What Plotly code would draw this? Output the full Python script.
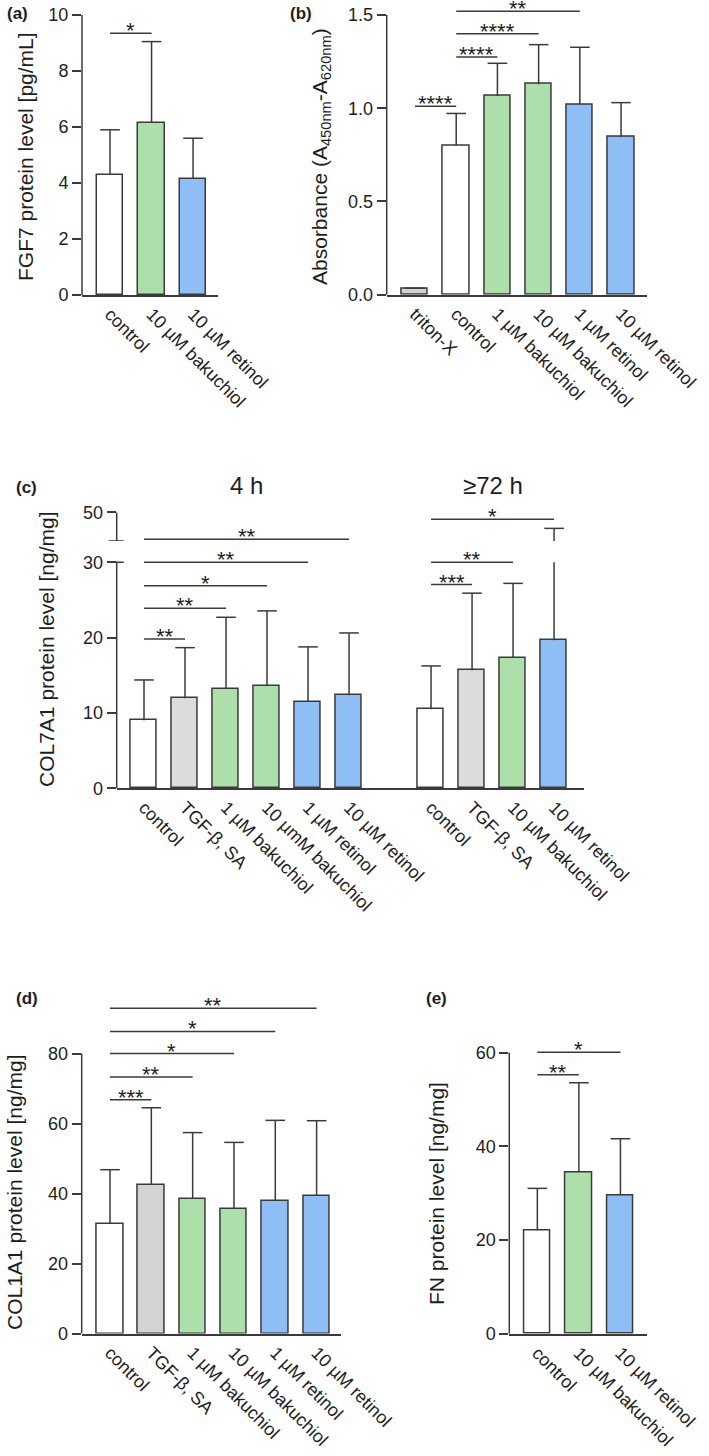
import plotly.graph_objects as go

W, H = 709, 1456

# ---------------- data ----------------
# (a) FGF7
a_labels = ["control", "10 µM bakuchiol", "10 µM retinol"]
a_mean = [4.3, 6.15, 4.15]
a_top = [5.9, 9.05, 5.6]
a_sig_from = [0]
a_sig_to = [1]
a_sig_y = [9.35]
a_sig_text = ["*"]

# (b) Absorbance
b_labels = ["triton-X", "control", "1 µM bakuchiol", "10 µM bakuchiol", "1 µM retinol", "10 µM retinol"]
b_mean = [0.03, 0.80, 1.066, 1.129, 1.021, 0.846]
b_top = [0.035, 0.972, 1.241, 1.341, 1.327, 1.03]
b_sig_from = [0, 1, 1, 1]
b_sig_to = [1, 2, 3, 4]
b_sig_y = [1.01, 1.275, 1.40, 1.52]
b_sig_text = ["****", "****", "****", "**"]

# (c) COL7A1
c4_labels = ["control", "TGF-β, SA", "1 µM bakuchiol", "10 µmM bakuchiol", "1 µM retinol", "10 µM retinol"]
c4_mean = [9.03, 11.95, 13.19, 13.59, 11.5, 12.35]
c4_top = [14.38, 18.67, 22.7, 23.55, 18.77, 20.62]
c4_sig_to = [1, 2, 3, 4, 5]
c4_sig_y = [19.83, 23.9, 26.9, 30.0, 33.05]
c4_sig_text = ["**", "**", "*", "**", "**"]
c72_labels = ["control", "TGF-β, SA", "10 µM bakuchiol", "10 µM retinol"]
c72_mean = [10.49, 15.67, 17.3, 19.65]
c72_top = [16.24, 25.9, 27.2, 44.4]
c72_sig_to = [1, 2, 3]
c72_sig_y = [27.04, 30.0, 35.7]
c72_sig_text = ["***", "**", "*"]
c_titles = ["4 h", "≥72 h"]

# (d) COL1A1
d_labels = ["control", "TGF-β, SA", "1 µM bakuchiol", "10 µM bakuchiol", "1 µM retinol", "10 µM retinol"]
d_mean = [31.3, 42.4, 38.4, 35.7, 37.9, 39.4]
d_top = [46.8, 64.5, 57.4, 54.6, 60.9, 60.8]
d_sig_to = [1, 2, 3, 4, 5]
d_sig_y = [66.8, 73.3, 80.0, 86.3, 92.9]
d_sig_text = ["***", "**", "*", "*", "**"]

# (e) FN
e_labels = ["control", "10 µM bakuchiol", "10 µM retinol"]
e_mean = [22.07, 34.46, 29.55]
e_top = [31.04, 53.6, 41.64]
e_sig_to = [1, 2]
e_sig_y = [55.3, 60.1]
e_sig_text = ["**", "*"]

# ---------------- style ----------------
WHITE = "#ffffff"
GREY = "#d3d3d3"
LGREY = "#dcdcdc"
GREEN = "#addfab"
BLUE = "#8fbdf5"
INK = "#3a3a3a"
TXT = "#1e1e1e"
FONT = "Liberation Sans, Arial, sans-serif"
TICK_FS = 18
TITLE_FS = 21
STAR_FS = 22
LW = 1.5
CAP = 14

fig = go.Figure()
annotations = []
shapes = []


def X(px):
    return min(1.0, max(0.0, px / W))


def Y(py):
    return min(1.0, max(0.0, 1 - py / H))


def add_panel(xa, ya, xs, means, tops, fills, ya_upper=None, brk=None):
    fig.add_trace(go.Bar(
        x=xs, y=means, xaxis=xa, yaxis=ya, width=0.64,
        marker=dict(color=fills, line=dict(color=INK, width=LW)),
        showlegend=False, hoverinfo="skip"))
    ex, ey, cx, cy = [], [], [], []
    ux, uy, ucx, ucy = [], [], [], []
    for x, m, t in zip(xs, means, tops):
        if brk is not None and t > brk[0]:
            ex += [x, x, None]
            ey += [m, brk[0], None]
            ux += [x, x, None]
            uy += [brk[1], t, None]
            ucx.append(x)
            ucy.append(t)
        else:
            ex += [x, x, None]
            ey += [m, t, None]
            cx.append(x)
            cy.append(t)
    fig.add_trace(go.Scatter(x=ex, y=ey, xaxis=xa, yaxis=ya, mode="lines",
                             line=dict(color=INK, width=LW), showlegend=False, hoverinfo="skip"))
    fig.add_trace(go.Scatter(x=cx, y=cy, xaxis=xa, yaxis=ya, mode="markers",
                             marker=dict(symbol="line-ew", size=CAP, line=dict(color=INK, width=LW)),
                             showlegend=False, hoverinfo="skip", cliponaxis=False))
    if ux:
        fig.add_trace(go.Scatter(x=ux, y=uy, xaxis=xa, yaxis=ya_upper, mode="lines",
                                 line=dict(color=INK, width=LW), showlegend=False, hoverinfo="skip"))
        fig.add_trace(go.Scatter(x=ucx, y=ucy, xaxis=xa, yaxis=ya_upper, mode="markers",
                                 marker=dict(symbol="line-ew", size=CAP, line=dict(color=INK, width=LW)),
                                 showlegend=False, hoverinfo="skip", cliponaxis=False))


def add_sig(xa, ya, x0s, x1s, ys, texts):
    for x0, x1, y, t in zip(x0s, x1s, ys, texts):
        fig.add_trace(go.Scatter(x=[x0, x1], y=[y, y], xaxis=xa, yaxis=ya, mode="lines",
                                 line=dict(color=INK, width=LW), showlegend=False, hoverinfo="skip",
                                 cliponaxis=False))
        annotations.append(dict(x=(x0 + x1) / 2, y=y, xref=xa, yref=ya, text=t, showarrow=False,
                                xanchor="center", yanchor="bottom", yshift=-12,
                                font=dict(size=STAR_FS, color=TXT, family=FONT)))


def spine(xa, ya, top):
    shapes.append(dict(type="line", xref=xa + " domain", yref=ya, x0=0, x1=0, y0=0, y1=top,
                       line=dict(color=INK, width=LW)))


def xaxis_layout(px0, px1, rng, tickvals, ticktext, anchor):
    return dict(domain=[X(px0), X(px1)], range=rng, anchor=anchor, showline=True, linecolor=INK,
                linewidth=LW, ticks="", tickvals=tickvals, ticktext=ticktext, tickangle=45,
                showgrid=False, zeroline=False, tickfont=dict(size=TICK_FS, color=TXT, family=FONT),
                fixedrange=True, automargin=False, ticklabeloverflow="allow")


def yaxis_layout(py0, py1, rng, tickvals, anchor, showline=False):
    return dict(domain=[Y(py0), Y(py1)], range=rng, anchor=anchor, showline=showline, linecolor=INK,
                linewidth=LW, ticks="outside", ticklen=9, tickwidth=LW, tickcolor=INK,
                tickvals=tickvals, showgrid=False, zeroline=False, automargin=False,
                ticklabeloverflow="allow",
                tickfont=dict(size=TICK_FS, color=TXT, family=FONT), fixedrange=True)


# ---- panel a ----
xa_pos = list(range(len(a_labels)))
add_panel("x", "y", xa_pos, a_mean, a_top, [WHITE, GREEN, BLUE])
add_sig("x", "y", a_sig_from, a_sig_to, a_sig_y, a_sig_text)
spine("x", "y", 10)

# ---- panel b ----
xb_pos = list(range(len(b_labels)))
add_panel("x2", "y2", xb_pos, b_mean, b_top, [GREY, WHITE, GREEN, GREEN, BLUE, BLUE])
add_sig("x2", "y2", b_sig_from, b_sig_to, b_sig_y, b_sig_text)
spine("x2", "y2", 1.5)

# ---- panel c ----
c4_pos = list(range(len(c4_labels)))
c72_pos = [len(c4_labels) + 1 + i for i in range(len(c72_labels))]
add_panel("x3", "y3", c4_pos, c4_mean, c4_top, [WHITE, LGREY, GREEN, GREEN, BLUE, BLUE])
add_panel("x3", "y3", c72_pos, c72_mean, c72_top, [WHITE, LGREY, GREEN, BLUE], ya_upper="y6", brk=(30, 40))
add_sig("x3", "y3", [c4_pos[0]] * len(c4_sig_to), [c4_pos[i] for i in c4_sig_to], c4_sig_y, c4_sig_text)
add_sig("x3", "y3", [c72_pos[0]] * len(c72_sig_to), [c72_pos[i] for i in c72_sig_to], c72_sig_y, c72_sig_text)
spine("x3", "y3", 30)
spine("x3", "y6", 50)
C_DOM_W = 584 - 116.7
for ya, yv in (("y3", 30), ("y6", 40)):
    shapes.append(dict(type="line", xref="x3 domain", yref=ya, x0=-8 / C_DOM_W, x1=7 / C_DOM_W, y0=yv, y1=yv,
                       line=dict(color=INK, width=LW)))
for grp, title in ((c4_pos, c_titles[0]), (c72_pos, c_titles[1])):
    annotations.append(dict(x=(grp[0] + grp[-1]) / 2, y=Y(486), xref="x3", yref="paper", text=title,
                            showarrow=False, xanchor="center", yanchor="middle",
                            font=dict(size=24, color=TXT, family="Liberation Sans Narrow, " + FONT)))

# ---- panel d ----
xd_pos = list(range(len(d_labels)))
add_panel("x4", "y4", xd_pos, d_mean, d_top, [WHITE, GREY, GREEN, GREEN, BLUE, BLUE])
add_sig("x4", "y4", [0] * len(d_sig_to), d_sig_to, d_sig_y, d_sig_text)
spine("x4", "y4", 80)

# ---- panel e ----
xe_pos = list(range(len(e_labels)))
add_panel("x5", "y5", xe_pos, e_mean, e_top, [WHITE, GREEN, BLUE])
add_sig("x5", "y5", [0] * len(e_sig_to), e_sig_to, e_sig_y, e_sig_text)
spine("x5", "y5", 60)


# ---- axis titles & panel letters ----
def ytitle(px, py, text):
    annotations.append(dict(x=X(px), y=Y(py), xref="paper", yref="paper", text=text, textangle=-90,
                            showarrow=False, xanchor="center", yanchor="middle",
                            font=dict(size=TITLE_FS, color=TXT, family=FONT)))


ytitle(25, 157, "FGF7 protein level [pg/mL]")
ytitle(321, 157, "Absorbance (A<sub>450nm</sub>-A<sub>620nm</sub>)")
ytitle(46, 650, "COL7A1 protein level [ng/mg]")
ytitle(14, 1193, "COL1A1 protein level [ng/mg]")
ytitle(436, 1194, "FN protein level [ng/mg]")

for t, px, py in (("(a)", 17, 14), ("(b)", 301, 14), ("(c)", 26, 488), ("(d)", 27, 998), ("(e)", 436, 998)):
    annotations.append(dict(x=X(px), y=Y(py), xref="paper", yref="paper", text="<b>" + t + "</b>",
                            showarrow=False, xanchor="center", yanchor="middle",
                            font=dict(size=17, color=TXT, family=FONT)))

fig.update_layout(
    width=W, height=H, margin=dict(l=0, r=0, t=0, b=0, autoexpand=False), autosize=False,
    paper_bgcolor="white", plot_bgcolor="rgba(0,0,0,0)", showlegend=False,
    bargap=0, hovermode=False,
    xaxis=xaxis_layout(82, 218, [-0.675, 2.6], xa_pos, a_labels, "y"),
    yaxis=yaxis_layout(295, 15, [0, 10], [0, 2, 4, 6, 8, 10], "x"),
    xaxis2=xaxis_layout(386.7, 647, [-0.687, 5.63], xb_pos, b_labels, "y2"),
    yaxis2=yaxis_layout(294.7, 3.8, [0, 1.56], [0, 0.5, 1.0, 1.5], "x2"),
    xaxis3=xaxis_layout(116.7, 584, [-0.666, 10.73], c4_pos + c72_pos, c4_labels + c72_labels, "y3"),
    yaxis3=yaxis_layout(788.3, 512.1, [0, 36.66], [0, 10, 20, 30], "x3"),
    yaxis6=yaxis_layout(541, 512.3, [40, 50], [50], "x3"),
    xaxis4=xaxis_layout(81.7, 341.4, [-0.685, 5.6], xd_pos, d_labels, "y4"),
    yaxis4=yaxis_layout(1333.5, 1001, [0, 95], [0, 20, 40, 60, 80], "x4"),
    xaxis5=xaxis_layout(509.3, 646.6, [-0.675, 2.63], xe_pos, e_labels, "y5"),
    yaxis5=yaxis_layout(1333.7, 1043.4, [0, 62], [0, 20, 40, 60], "x5"),
    annotations=annotations, shapes=shapes,
)
fig.update_layout(yaxis2_tickformat=".1f")

# remove the browser's default 8 px body margin so the figure fills the window exactly
fig.write_html("out.html", config={"displayModeBar": False},
               post_script="document.body.style.margin='0';")
